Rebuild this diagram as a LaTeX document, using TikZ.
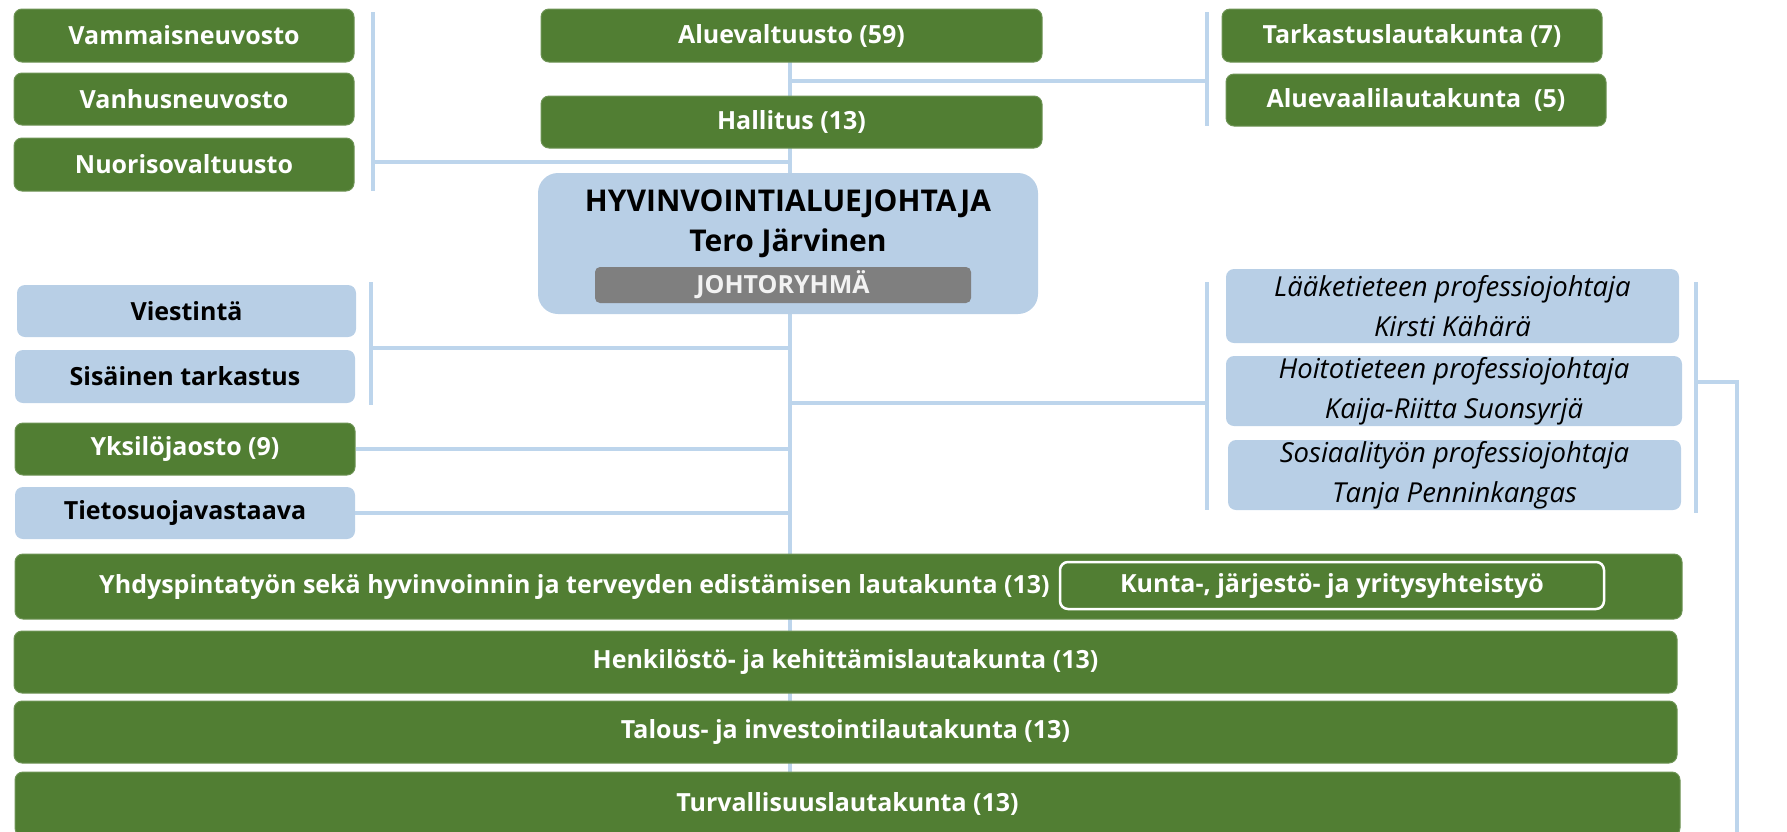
\documentclass[tikz,border=0pt]{standalone}
\usepackage{fontspec}
\setmainfont{Open Sans}
\definecolor{gr}{HTML}{517E33}
\definecolor{grb}{HTML}{6E9455}
\definecolor{lb}{HTML}{B8CFE6}
\definecolor{ln}{HTML}{BDD5EC}
\definecolor{gy}{HTML}{7F7F7F}
\definecolor{gyt}{HTML}{F2F2F2}
\tikzset{
  base/.style={rounded corners=8pt, inner sep=0pt, align=center},
  gbox/.style={base, fill=gr, draw=grb, line width=1pt, text=white, font=\bfseries\fontsize{25}{30}\selectfont},
  bbox/.style={base, fill=lb, text=black, font=\bfseries\fontsize{25}{30}\selectfont},
  pbox/.style={base, fill=lb, text=black, font=\itshape\fontsize{27.5}{40}\selectfont},
  wtext/.style={inner sep=0pt, text=white, font=\bfseries\fontsize{25}{30}\selectfont},
  conn/.style={draw=ln, line width=4pt},
}
\begin{document}
\begin{tikzpicture}[x=1pt,y=-1pt]
\useasboundingbox (0,0) rectangle (1787,831);
\clip (0,0) rectangle (1787,831);
% coordinates for connectors
\coordinate (sTop) at (790,62);
\coordinate (sBot) at (790,840);
\coordinate (lb1t) at (373,12);
\coordinate (lb1b) at (373,191);
\coordinate (lb1m) at (373,162);
\coordinate (rb1t) at (1207,12);
\coordinate (rb1b) at (1207,126);
\coordinate (rb1m) at (1207,81);
\coordinate (lb2t) at (371,282);
\coordinate (lb2b) at (371,405);
\coordinate (lb2m) at (371,348);
\coordinate (rb2t) at (1207,282);
\coordinate (rb2b) at (1207,510);
\coordinate (rb2m) at (1207,403);
\coordinate (rb3t) at (1696,282);
\coordinate (rb3b) at (1696,513);
\coordinate (rb3m) at (1696,382);
\coordinate (rb3c) at (1737,382);
\coordinate (rb3e) at (1737,840);
% connectors (behind boxes)
\draw[conn] (sTop) -- (sBot);
\draw[conn] (lb1t) -- (lb1b);
\draw[conn] (lb1m) -- (lb1m -| sTop);
\draw[conn] (rb1t) -- (rb1b);
\draw[conn] (rb1m) -- (rb1m -| sTop);
\draw[conn] (lb2t) -- (lb2b);
\draw[conn] (lb2m) -- (lb2m -| sTop);
\draw[conn] (rb2t) -- (rb2b);
\draw[conn] (rb2m) -- (rb2m -| sTop);
\draw[conn] (rb3t) -- (rb3b);
\draw[conn] (rb3m) -- (rb3c) -- (rb3e);
% left top
\node[gbox, minimum width=340pt, minimum height=53pt] (vamm) at (184,35.5) {Vammaisneuvosto};
\node[gbox, minimum width=340pt, minimum height=52pt] (vanh) at (184,99) {Vanhusneuvosto};
\node[gbox, minimum width=340pt, minimum height=53pt] (nuor) at (184,164.5) {Nuorisovaltuusto};
% centre
\node[gbox, minimum width=501pt, minimum height=53pt] (aluev) at (791.5,35.5) {Aluevaltuusto (59)};
\node[gbox, minimum width=501pt, minimum height=52pt] (hall) at (791.5,122) {Hallitus (13)};
\node[base, fill=lb, rounded corners=20pt, minimum width=500pt, minimum height=141pt] (hyv) at (788,243.5) {};
\node[inner sep=0pt, align=center, font=\bfseries\fontsize{30}{40}\selectfont] (hyvt) at (788,224) {HYVINVOINTIALUEJOHTAJA\\Tero Järvinen};
\node[base, rounded corners=5pt, fill=gy, text=gyt, minimum width=376pt, minimum height=36pt, font=\bfseries\fontsize{25}{30}\selectfont] (johto) at (783,285) {JOHTORYHMÄ};
% right top
\node[gbox, minimum width=380pt, minimum height=53pt] (tark) at (1412,35.5) {Tarkastuslautakunta (7)};
\node[gbox, minimum width=380pt, minimum height=52pt] (avaali) at (1416,100) {Aluevaalilautakunta\ \ (5)};
% left middle
\node[bbox, minimum width=339pt, minimum height=52pt] (viest) at (186.5,311) {Viestintä};
\node[bbox, minimum width=340pt, minimum height=53pt] (sis) at (185,376.5) {Sisäinen tarkastus};
\node[gbox, minimum width=340pt, minimum height=52pt] (yks) at (185,449) {Yksilöjaosto (9)};
\node[bbox, minimum width=340pt, minimum height=52pt] (tieto) at (185,513) {Tietosuojavastaava};
\draw[conn] (yks.east) -- (yks.east -| sTop);
\draw[conn] (tieto.east) -- (tieto.east -| sTop);
% right middle
\node[pbox, minimum width=453pt, minimum height=74pt] (laake) at (1452.5,306) {Lääketieteen professiojohtaja\\Kirsti Kähärä};
\node[pbox, minimum width=456pt, minimum height=70pt] (hoito) at (1454,391) {Hoitotieteen professiojohtaja\\Kaija-Riitta Suonsyrjä};
\node[pbox, minimum width=453pt, minimum height=70pt] (sosi) at (1454.5,475) {Sosiaalityön professiojohtaja\\Tanja Penninkangas};
% bottom wide boards
\node[gbox, minimum width=1667pt, minimum height=65pt] (yhd) at (848.5,586.5) {};
\node[wtext] (yhdt) at (574.5,587) {Yhdyspintatyön sekä hyvinvoinnin ja terveyden edistämisen lautakunta (13)};
\node[base, draw=white, line width=2.5pt, minimum width=544pt, minimum height=47pt, text=white, font=\bfseries\fontsize{25}{30}\selectfont] (kunta) at (1332,585.5) {Kunta-, järjestö- ja yritysyhteistyö};
\node[gbox, minimum width=1663pt, minimum height=62pt] (henk) at (845.5,662) {Henkilöstö- ja kehittämislautakunta (13)};
\node[gbox, minimum width=1663pt, minimum height=62pt] (talous) at (845.5,732) {Talous- ja investointilautakunta (13)};
\node[gbox, minimum width=1665pt, minimum height=64pt] (turv) at (847.5,804) {Turvallisuuslautakunta (13)};
\end{tikzpicture}
\end{document}
